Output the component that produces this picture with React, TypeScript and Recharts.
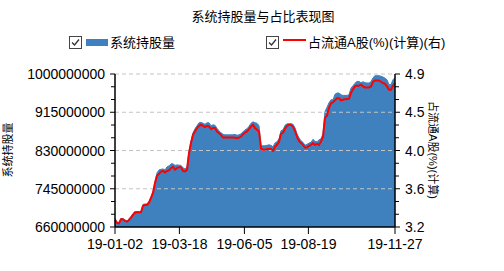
import React from 'react';
import { ComposedChart, Area, Line, XAxis, YAxis, ReferenceLine } from 'recharts';

// 系统持股量 (shares), sampled evenly across the period
const holdings = [
  679400000, 671100000, 670000000, 678900000, 678500000, 675600000, 673400000, 677800000, 683400000, 690100000,
  694500000, 694500000, 694500000, 694500000, 710100000, 711200000, 711200000, 716800000, 726800000, 739000000,
  761300000, 780200000, 786900000, 788000000, 789100000, 786900000, 793600000, 795800000, 800300000, 800300000,
  796900000, 798000000, 797400000, 796900000, 791400000, 789100000, 793600000, 829200000, 851500000, 869300000,
  878200000, 884900000, 891600000, 892700000, 890500000, 888200000, 891600000, 891600000, 884900000, 887100000,
  886000000, 879300000, 873800000, 869300000, 866000000, 864800000, 864800000, 864800000, 864800000, 864800000,
  866000000, 863700000, 864800000, 867100000, 871500000, 876000000, 878200000, 883800000, 890500000, 893800000,
  891600000, 890500000, 884900000, 840400000, 840400000, 840400000, 841500000, 842600000, 841500000, 838100000,
  847000000, 849300000, 855900000, 873800000, 876000000, 886000000, 889300000, 889300000, 889300000, 888200000,
  880400000, 867100000, 858200000, 851500000, 848100000, 841500000, 843700000, 846400000, 848100000, 854800000,
  850400000, 849300000, 853700000, 855900000, 867100000, 916700000, 926100000, 936100000, 942800000, 942800000,
  955000000, 957700000, 957700000, 953900000, 952400000, 952400000, 952400000, 953900000, 968800000, 974000000,
  979500000, 983500000, 983500000, 980600000, 982900000, 980600000, 980000000, 980000000, 982900000, 991800000,
  996200000, 996200000, 996200000, 995100000, 993300000, 990600000, 987300000, 976200000, 976200000, 987300000,
  991800000,
];

// 占流通A股(%)(计算)
const ratio = [
  3.278, 3.245, 3.241, 3.286, 3.286, 3.267, 3.259, 3.278, 3.304, 3.334,
  3.359, 3.364, 3.364, 3.364, 3.437, 3.445, 3.445, 3.471, 3.523, 3.579,
  3.690, 3.768, 3.790, 3.816, 3.823, 3.805, 3.823, 3.829, 3.854, 3.871,
  3.838, 3.854, 3.865, 3.865, 3.823, 3.818, 3.835, 4.020, 4.132, 4.224,
  4.261, 4.299, 4.324, 4.336, 4.324, 4.310, 4.324, 4.317, 4.288, 4.299,
  4.299, 4.261, 4.243, 4.224, 4.194, 4.194, 4.194, 4.194, 4.194, 4.194,
  4.191, 4.187, 4.194, 4.205, 4.232, 4.250, 4.261, 4.288, 4.317, 4.336,
  4.299, 4.280, 4.261, 4.076, 4.057, 4.057, 4.068, 4.068, 4.068, 4.046,
  4.091, 4.113, 4.146, 4.235, 4.247, 4.291, 4.324, 4.336, 4.336, 4.313,
  4.269, 4.202, 4.157, 4.132, 4.113, 4.083, 4.083, 4.102, 4.113, 4.132,
  4.113, 4.124, 4.113, 4.150, 4.202, 4.414, 4.436, 4.525, 4.575, 4.586,
  4.608, 4.631, 4.631, 4.608, 4.614, 4.619, 4.622, 4.625, 4.692, 4.731,
  4.764, 4.770, 4.770, 4.781, 4.762, 4.751, 4.751, 4.751, 4.762, 4.814,
  4.829, 4.829, 4.829, 4.814, 4.800, 4.792, 4.762, 4.725, 4.725, 4.770,
  4.800,
];

const xTickPos = [0, 32.2, 64.7, 96.7, 140];
const xTickLabels = ['19-01-02', '19-03-18', '19-06-05', '19-08-19', '19-11-27'];

const leftMajor = [660000000, 745000000, 830000000, 915000000, 1000000000];
const leftLabels = ['660000000', '745000000', '830000000', '915000000', '1000000000'];
const rightMajor = [3.2, 3.625, 4.05, 4.475, 4.9];
const rightLabels = ['3.2', '3.6', '4.0', '4.5', '4.9'];

const TITLE = '系统持股量与占比表现图';
const SERIES1 = '系统持股量';
const SERIES2 = '占流通A股(%)(计算)(右)';
const LEFT_TITLE = '系统持股量';
const RIGHT_TITLE = '占流通A股(%)(计算)';

const BLUE = '#3f80be';
const RED = '#ff0000';
const FONT = "'Liberation Sans', Arial, 'Noto Sans CJK SC', sans-serif";

const withMinor = (major: number[]) => {
  const out: number[] = [];
  for (let i = 0; i < major.length - 1; i++) {
    const a = major[i];
    const b = major[i + 1];
    out.push(a, a + (b - a) / 3, a + (2 * (b - a)) / 3);
  }
  out.push(major[major.length - 1]);
  return out;
};

const data = holdings.map((h, i) => ({ t: i, holdings: h, ratio: ratio[i] }));

const LeftTick = (p: any) => {
  const { x, y, payload } = p;
  const mi = leftMajor.findIndex((v) => Math.abs(v - payload.value) < 1);
  const ax = x + 10;
  return (
    <g>
      <line x1={ax - (mi >= 0 ? 5 : 4)} x2={ax} y1={y} y2={y} stroke="#000" strokeWidth={1} />
      {mi >= 0 && (
        <text x={x} y={y} dy="0.36em" textAnchor="end" fontSize={14} fill="#000" fontFamily={FONT}>
          {leftLabels[mi]}
        </text>
      )}
    </g>
  );
};

const RightTick = (p: any) => {
  const { x, y, payload } = p;
  const mi = rightMajor.findIndex((v) => Math.abs(v - payload.value) < 1e-6);
  const ax = x - 10;
  return (
    <g>
      <line x1={ax} x2={ax + (mi >= 0 ? 5 : 4)} y1={y} y2={y} stroke="#000" strokeWidth={1} />
      {mi >= 0 && (
        <text x={x} y={y} dy="0.36em" textAnchor="start" fontSize={14} fill="#000" fontFamily={FONT}>
          {rightLabels[mi]}
        </text>
      )}
    </g>
  );
};

const CheckBox = ({ x, y }: { x: number; y: number }) => (
  <g>
    <rect x={x + 0.5} y={y + 0.5} width={12} height={12} fill="#fff" stroke="#444" strokeWidth={1} />
    <path d={`M${x + 3} ${y + 6.5} L${x + 5.5} ${y + 9} L${x + 10} ${y + 3.5}`} fill="none" stroke="#333" strokeWidth={1.3} />
  </g>
);

export default function App() {
  return (
    <div style={{ position: 'absolute', left: 0, top: 0, width: 504, height: 271, background: '#fff' }}>
      <ComposedChart width={504} height={271} data={data} margin={{ top: 74, right: 0, bottom: 0, left: 0 }}>
        <XAxis
          dataKey="t"
          type="number"
          domain={[0, 140]}
          ticks={xTickPos}
          interval={0}
          tickFormatter={(v: number) => xTickLabels[xTickPos.indexOf(v)] ?? ''}
          height={44}
          tickSize={7}
          tickMargin={5}
          axisLine={{ stroke: '#000', strokeWidth: 1.5 }}
          tickLine={{ stroke: '#000' }}
          tick={{ fontSize: 14, fill: '#000', fontFamily: FONT }}
        />
        <YAxis
          yAxisId="left"
          orientation="left"
          width={115}
          domain={[660000000, 1000000000]}
          ticks={withMinor(leftMajor)}
          interval={0}
          tickSize={5}
          tickMargin={5}
          tickLine={false}
          axisLine={{ stroke: '#000', strokeWidth: 1.5 }}
          tick={<LeftTick />}
          allowDataOverflow
        />
        <YAxis
          yAxisId="right"
          orientation="right"
          width={109}
          domain={[3.2, 4.9]}
          ticks={withMinor(rightMajor)}
          interval={0}
          tickSize={5}
          tickMargin={5}
          tickLine={false}
          axisLine={{ stroke: '#000', strokeWidth: 1.5 }}
          tick={<RightTick />}
          allowDataOverflow
        />
        {leftMajor.slice(1).map((v) => (
          <ReferenceLine key={v} yAxisId="left" y={v} stroke="#c4c4c4" strokeDasharray="4 3" strokeWidth={1} />
        ))}
        <Area
          yAxisId="left"
          dataKey="holdings"
          type="linear"
          stroke={BLUE}
          strokeWidth={1}
          fill={BLUE}
          fillOpacity={1}
          dot={false}
          activeDot={false}
          isAnimationActive={false}
        />
        <Line
          yAxisId="right"
          dataKey="ratio"
          type="linear"
          stroke={RED}
          strokeWidth={2}
          dot={false}
          activeDot={false}
          isAnimationActive={false}
        />
      </ComposedChart>
      <svg width={504} height={271} style={{ position: 'absolute', left: 0, top: 0, pointerEvents: 'none' }}>
        <text x={263} y={16} textAnchor="middle" dominantBaseline="central" fontSize={13} fill="#000" fontFamily={FONT}>
          {TITLE}
        </text>
        <CheckBox x={69} y={36} />
        <rect x={86} y={39} width={22} height={7} fill={BLUE} />
        <text x={110} y={42} dominantBaseline="central" fontSize={13} fill="#000" fontFamily={FONT}>
          {SERIES1}
        </text>
        <CheckBox x={266} y={36} />
        <line x1={283} x2={306} y1={40} y2={40} stroke={RED} strokeWidth={2} />
        <text x={308} y={42} dominantBaseline="central" fontSize={13} fill="#000" fontFamily={FONT}>
          {SERIES2}
        </text>
        <text x={8} y={150} textAnchor="middle" dominantBaseline="central" fontSize={11} fill="#000" fontFamily={FONT} transform="rotate(-90 8 150)">
          {LEFT_TITLE}
        </text>
        <text x={433} y={150} textAnchor="middle" dominantBaseline="central" fontSize={11} fill="#000" fontFamily={FONT} transform="rotate(90 433 150)">
          {RIGHT_TITLE}
        </text>
      </svg>
    </div>
  );
}
